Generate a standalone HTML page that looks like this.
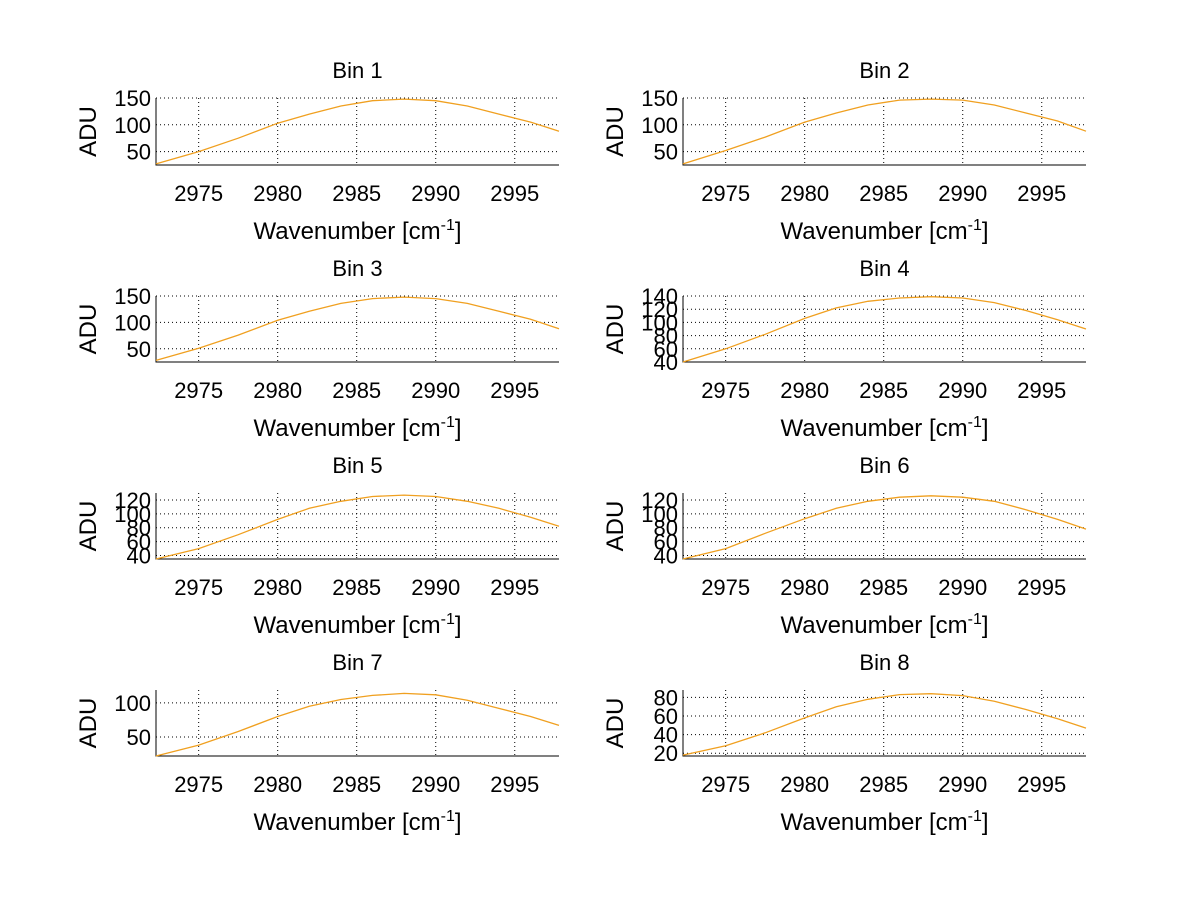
<!DOCTYPE html>
<html><head><meta charset="utf-8">
<style>
body{margin:0;background:#fff;}
svg{display:block;font-family:"Liberation Sans",sans-serif;}
</style></head>
<body>
<svg id="fig" width="1200" height="901" viewBox="0 0 1200 901" xmlns="http://www.w3.org/2000/svg">
<rect width="1200" height="901" fill="#fff"/>
</svg>
<script>
const wavenumbers = [2972.3,2975,2977.5,2980,2982,2984,2986,2988,2990,2992,2994,2996,2997.8];
const bin1 = [27,50,75,103,120,135,145,148,145,135,120,105,88];
const bin2 = [27,52,77,105,122,137,146,148,146,137,122,107,88];
const bin3 = [28,51,76,104,121,136,145,148,145,136,121,106,88];
const bin4 = [40,60,82,106,122,132,137,139,137,130,118,104,90];
const bin5 = [35,50,70,92,108,118,125,127,125,118,108,95,82];
const bin6 = [35,50,72,93,108,118,124,126,124,118,106,92,78];
const bin7 = [22,38,58,80,95,105,111,114,112,104,92,80,67];
const bin8 = [18,28,42,58,70,78,83,84,82,76,67,57,47];
const xTicks = [2975,2980,2985,2990,2995];
const yTicks = [[50,100,150],[50,100,150],[50,100,150],[40,60,80,100,120,140],[40,60,80,100,120],[40,60,80,100,120],[50,100],[20,40,60,80]];
const yRanges = [[25,150],[25,150],[25,150],[40,140],[35,130],[35,130],[22,119],[17,88]];
const titles = ["Bin 1","Bin 2","Bin 3","Bin 4","Bin 5","Bin 6","Bin 7","Bin 8"];
const series = [bin1,bin2,bin3,bin4,bin5,bin6,bin7,bin8];

const NS="http://www.w3.org/2000/svg";
const svg=document.getElementById('fig');
function mk(tag,attrs,parent){const e=document.createElementNS(NS,tag);for(const k in attrs)e.setAttribute(k,attrs[k]);(parent||svg).appendChild(e);return e;}
const colL=[156,683], colR=[559,1086];
const rowT=[98,296,493,690], rowB=[165,362,559,756];
const xMin=2972.3, xMax=2997.8;

for(let i=0;i<8;i++){
  const c=i%2, r=Math.floor(i/2);
  const L=colL[c],R=colR[c],T=rowT[r],B=rowB[r];
  const [y0,y1]=yRanges[i];
  const sx=v=>L+(v-xMin)/(xMax-xMin)*(R-L);
  const sy=v=>B-(v-y0)/(y1-y0)*(B-T);
  const g=mk('g',{});
  
  
  xTicks.forEach(t=>{
    const l=mk('line',{x1:sx(t),x2:sx(t),y1:T,y2:B,stroke:'#000','stroke-width':1,'stroke-dasharray':'1,3'},g);
    
    
    const tx=mk('text',{x:sx(t),y:B+36,'font-size':22,'text-anchor':'middle'},g);
    tx.textContent=t;
    
    
  });
  yTicks[i].forEach(t=>{
    const l=mk('line',{x1:L,x2:R,y1:sy(t),y2:sy(t),stroke:'#000','stroke-width':1,'stroke-dasharray':'1,3'},g);
    
    
    const tx=mk('text',{x:L-5,y:sy(t)+8,'font-size':22,'text-anchor':'end'},g);
    tx.textContent=t;
    
    
  });
  const ax=mk('path',{d:`M${L},${T}V${B}H${R}`,fill:'none',stroke:'#000','stroke-width':1},g);
  
  
  const pts=series[i].map((v,k)=>sx(wavenumbers[k]).toFixed(1)+','+sy(v).toFixed(1)).join(' ');
  const pl=mk('polyline',{points:pts,fill:'none',stroke:'#f0a020','stroke-width':1.3},g);
  
  
  const ti=mk('text',{x:(L+R)/2,y:T-20,'font-size':22,'text-anchor':'middle'},g);
  ti.textContent=titles[i];
  
  
  const xl=mk('text',{x:(L+R)/2,y:B+74,'font-size':24,'text-anchor':'middle'},g);
  xl.innerHTML='Wavenumber [cm<tspan dy="-9" font-size="16">-1</tspan><tspan dy="9">]</tspan>';
  
  
  const yl=mk('text',{x:0,y:0,'font-size':24,'text-anchor':'middle',transform:`translate(${L-60},${(T+B)/2}) rotate(-90)`},g);
  yl.textContent='ADU';
  
  
}
</script>
</body></html>
